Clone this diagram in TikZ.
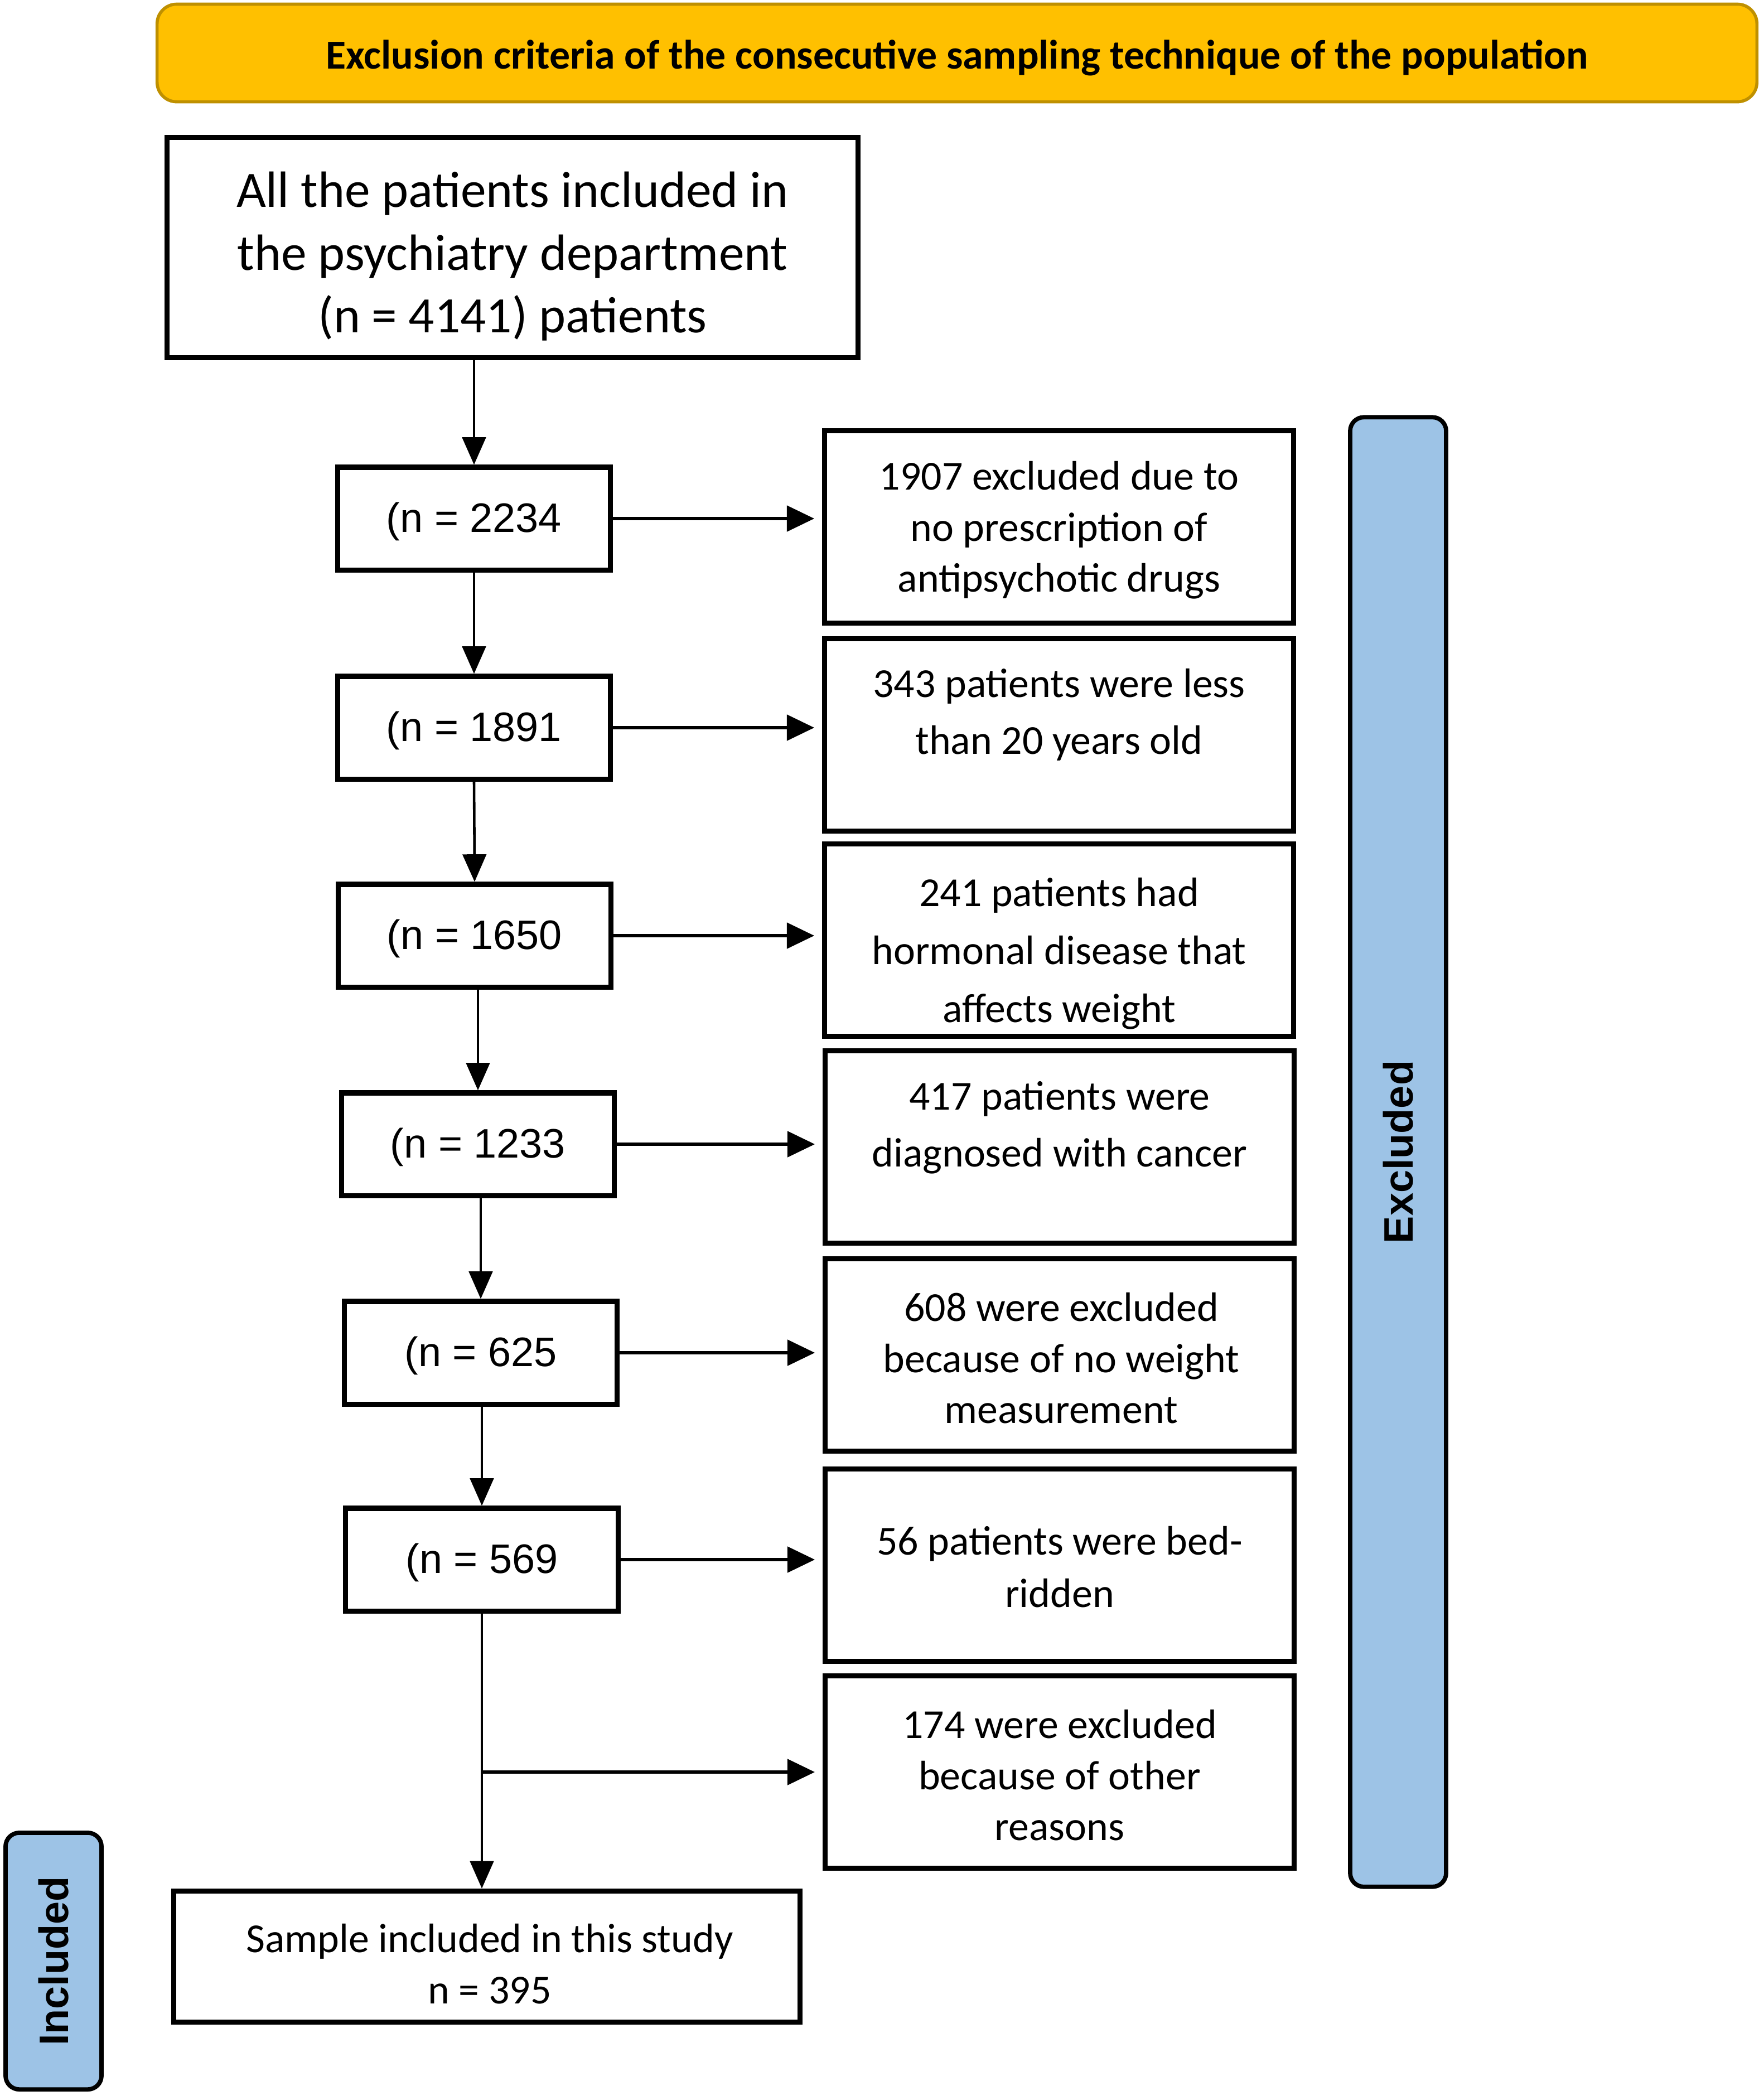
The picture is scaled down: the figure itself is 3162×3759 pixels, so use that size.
\documentclass[tikz,border=0pt]{standalone}
\usepackage{fontspec}
\setmainfont{Carlito}
\newfontfamily\arialf{Liberation Sans}
\usetikzlibrary{arrows.meta,calc}
\definecolor{bannerfill}{HTML}{FFC000}
\definecolor{bannerdraw}{HTML}{BF9000}
\definecolor{barfill}{HTML}{9DC3E6}
\tikzset{
  boxst/.style={draw=black, line width=2.6pt, fill=white, inner sep=0pt},
  nbox/.style={boxst, minimum width=4.88cm, minimum height=1.84cm, text depth=0.6cm, text height=1.08cm, font=\arialf\fontsize{21pt}{25pt}\selectfont},
  rbox/.style={boxst, minimum width=8.4cm, minimum height=3.45cm},
  rtext/.style={align=center, inner sep=0pt},
  vflow/.style={line width=1.3pt, -{Triangle[length=14pt,width=12pt]}},
  hflow/.style={line width=1.8pt, -{Triangle[length=14pt,width=13pt]}, shorten >=4pt},
  bar/.style={draw=black, line width=2.2pt, fill=barfill, rounded corners=7pt, inner sep=0pt},
  bartext/.style={font=\arialf\bfseries\fontsize{21pt}{25pt}\selectfont, rotate=90}
}
\begin{document}
\begin{tikzpicture}[x=0.01cm, y=-0.01cm]
\useasboundingbox (0,0) rectangle (3162,3759);

% banner
\node[draw=bannerdraw, line width=1.6pt, fill=bannerfill, rounded corners=10pt,
      minimum width=28.67cm, minimum height=1.75cm, inner sep=0pt] (banner) at (1716,95) {};
\node[font=\bfseries\fontsize{21pt}{25pt}\selectfont, inner sep=0pt] (bantxt) at (1716,104)
      {Exclusion criteria of the consecutive sampling technique of the population};

% top box
\node[boxst, minimum width=12.38cm, minimum height=3.94cm] (top) at (919,444) {};
\node[rtext, font=\fontsize{26pt}{32pt}\selectfont] (toptxt) at (919,460)
  {All the patients included in\\the psychiatry department\\(n = 4141) patients};

% left boxes
\node[nbox] (b1) at (850,930) {(n = 2234};
\node[nbox] (b2) at (850,1305) {(n = 1891};
\node[nbox] (b3) at (851,1678) {(n = 1650};
\node[nbox] (b4) at (857,2052) {(n = 1233};
\node[nbox] (b5) at (862,2426) {(n = 625};
\node[nbox] (b6) at (864,2797) {(n = 569};

% right boxes
\node[rbox] (r1) at (1899,945) {};
\node[rbox] (r2) at (1899,1318) {};
\node[rbox] (r3) at (1899,1686) {};
\node[rbox] (r4) at (1900,2057) {};
\node[rbox] (r5) at (1900,2430) {};
\node[rbox] (r6) at (1900,2807) {};
\node[rbox] (r7) at (1900,3178) {};

\node[rtext, font=\fontsize{21pt}{26pt}\selectfont] (r1t) at (1899,951)
  {1907 excluded due to\\no prescription of\\antipsychotic drugs};
\node[rtext, font=\fontsize{21pt}{29pt}\selectfont] (r2t) at (1899,1282)
  {343 patients were less\\than 20 years old};
\begin{scope}
\clip ($(r3.south west)+(6,-6)$) rectangle ($(r3.north east)+(-6,6)$);
\node[rtext, font=\fontsize{21pt}{29.5pt}\selectfont] (r3t) at (1899,1710)
  {241 patients had\\hormonal disease that\\affects weight};
\end{scope}
\node[rtext, font=\fontsize{21pt}{29pt}\selectfont] (r4t) at (1900,2022)
  {417 patients were\\diagnosed with cancer};
\node[rtext, font=\fontsize{21pt}{26pt}\selectfont] (r5t) at (1903,2436)
  {608 were excluded\\because of no weight\\measurement};
\node[rtext, font=\fontsize{21pt}{26.5pt}\selectfont] (r6t) at (1900,2810)
  {56 patients were bed-\\ridden};
\node[rtext, font=\fontsize{21pt}{26pt}\selectfont] (r7t) at (1900,3184)
  {174 were excluded\\because of other\\reasons};

% final box
\node[boxst, minimum width=11.23cm, minimum height=2.35cm] (fin) at (873,3509) {};
\node[rtext, font=\fontsize{21pt}{26pt}\selectfont] (fint) at (878,3522)
  {Sample included in this study\\n = 395};

% side bars
\node[bar, minimum width=1.72cm, minimum height=26.34cm] (excl) at (2507,2066) {};
\node[bartext] (excltxt) at (excl.center) {Excluded};
\node[bar, minimum width=1.72cm, minimum height=4.6cm] (incl) at (96,3517) {};
\node[bartext] (incltxt) at (incl.center) {Included};

% vertical flow
\draw[vflow] (b1.north |- top.south) -- (b1.north);
\draw[vflow] (b1.south) -- (b2.north);
\draw[vflow] (b2.south) -- (b3.north);
\draw[vflow] (b4.north |- b3.south) -- (b4.north);
\draw[vflow] (b5.north |- b4.south) -- (b5.north);
\draw[vflow] (b6.north |- b5.south) -- (b6.north);
\coordinate (br) at (b6.south |- r7.west);
\draw[vflow] (b6.south) -- (b6.south |- fin.north);

% horizontal flow
\draw[hflow] (b1.east) -- (b1.east -| r1.west);
\draw[hflow] (b2.east) -- (b2.east -| r2.west);
\draw[hflow] (b3.east) -- (b3.east -| r3.west);
\draw[hflow] (b4.east) -- (b4.east -| r4.west);
\draw[hflow] (b5.east) -- (b5.east -| r5.west);
\draw[hflow] (b6.east) -- (b6.east -| r6.west);
\draw[hflow] (br) -- (r7.west);
\end{tikzpicture}
\end{document}
